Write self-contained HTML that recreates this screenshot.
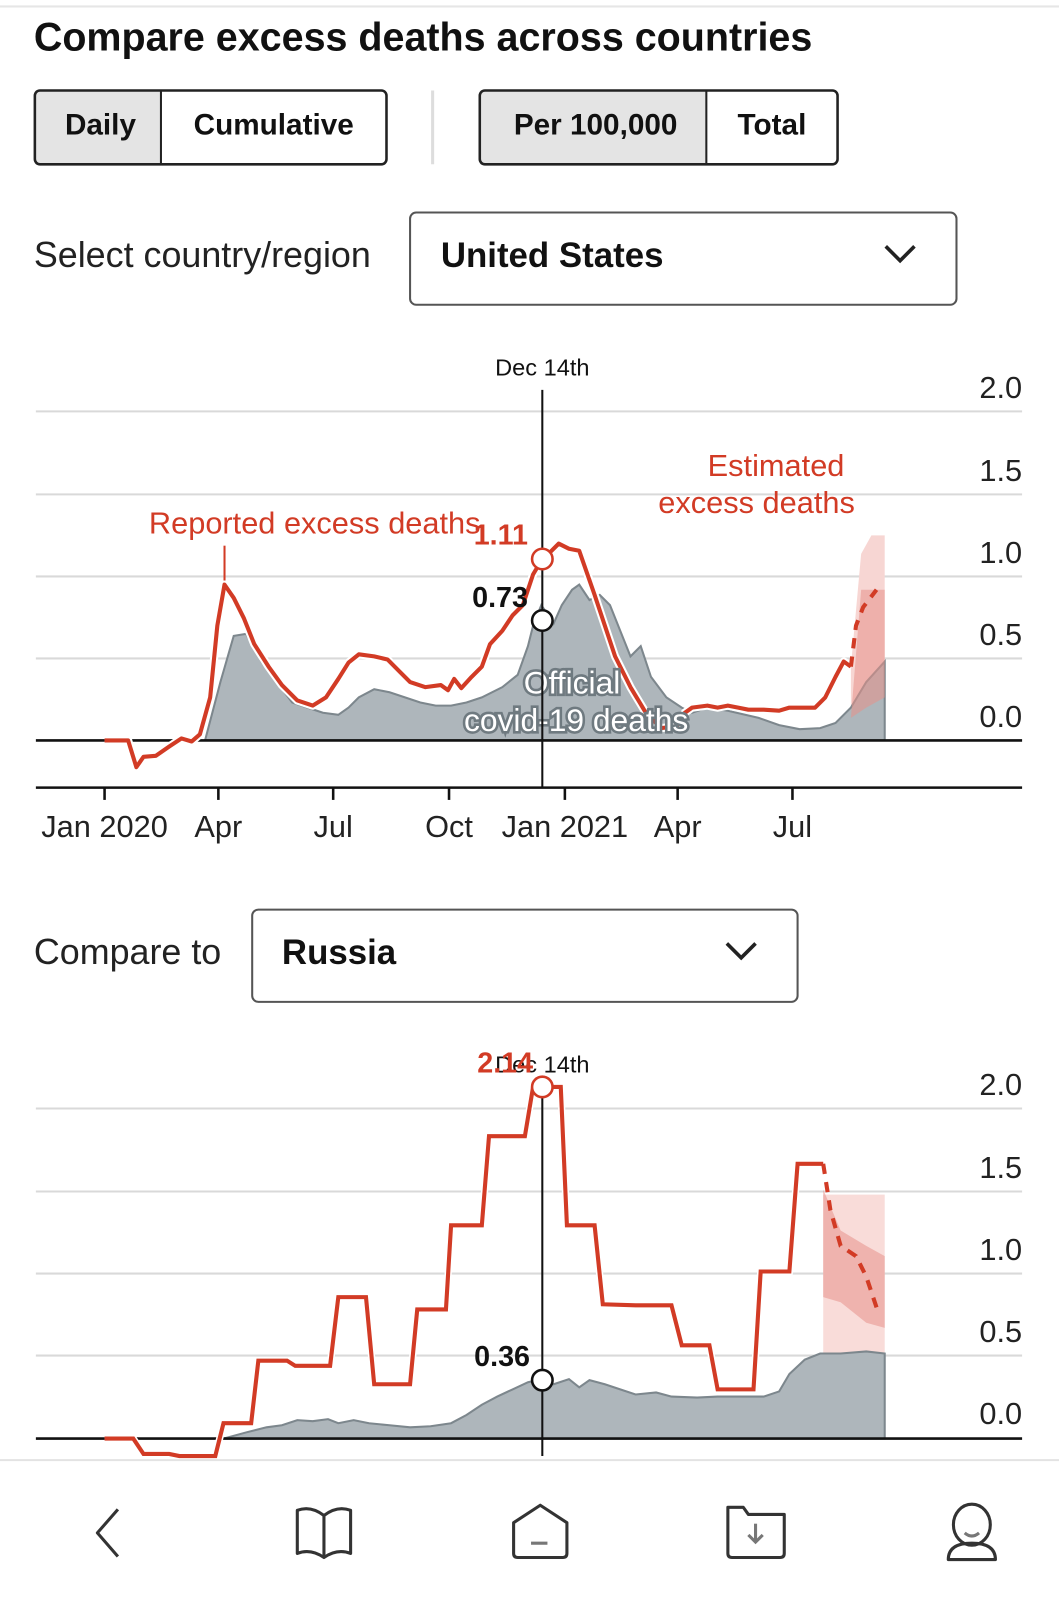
<!DOCTYPE html>
<html><head><meta charset="utf-8"><style>
html,body{margin:0;padding:0;background:#fff;}
svg{display:block;font-family:"Liberation Sans",sans-serif;}
</style></head><body>
<svg width="1059" height="1607" viewBox="0 0 1033 1567" xmlns="http://www.w3.org/2000/svg">
<rect width="1033" height="1567" fill="#fff"/>
<line x1="0" y1="6" x2="1033" y2="6" stroke="#e6e6e6" stroke-width="2"/>
<text x="33" y="49" font-size="38.5" font-weight="bold" fill="#111">Compare excess deaths across countries</text>
<rect x="34" y="88" width="123" height="72" fill="#e4e4e4"/>
<rect x="34" y="88" width="343" height="72" rx="5" fill="none" stroke="#222" stroke-width="2.5"/>
<line x1="157" y1="88" x2="157" y2="160" stroke="#222" stroke-width="2"/>
<text x="98" y="131" font-size="29" text-anchor="middle" fill="#111" font-weight="bold">Daily</text>
<text x="267" y="131" font-size="29" text-anchor="middle" fill="#111" font-weight="bold">Cumulative</text>
<line x1="422" y1="88" x2="422" y2="160" stroke="#ddd" stroke-width="3"/>
<rect x="468" y="88" width="221" height="72" fill="#e4e4e4"/>
<rect x="468" y="88" width="349" height="72" rx="5" fill="none" stroke="#222" stroke-width="2.5"/>
<line x1="689" y1="88" x2="689" y2="160" stroke="#222" stroke-width="2"/>
<text x="581" y="131" font-size="29" text-anchor="middle" fill="#111" font-weight="bold">Per 100,000</text>
<text x="753" y="131" font-size="29" text-anchor="middle" fill="#111" font-weight="bold">Total</text>
<text x="33" y="260" font-size="35" fill="#222">Select country/region</text>
<rect x="400" y="207" width="533" height="90" rx="6" fill="#fff" stroke="#555" stroke-width="2"/>
<text x="430" y="260" font-size="34" font-weight="bold" fill="#111">United States</text>
<polyline points="864,240 878,254 892,240" fill="none" stroke="#222" stroke-width="3.5"/>
<g stroke="#d9d9d9" stroke-width="2">
<line x1="35" y1="401" x2="997" y2="401"/><line x1="35" y1="482" x2="997" y2="482"/>
<line x1="35" y1="562" x2="997" y2="562"/><line x1="35" y1="642" x2="997" y2="642"/>
</g>
<g font-size="30" fill="#222" text-anchor="end">
<text x="997" y="388">2.0</text><text x="997" y="469">1.5</text><text x="997" y="549">1.0</text><text x="997" y="629">0.5</text><text x="997" y="709">0.0</text>
</g>
<polygon points="830,650 840,540 850,522 863,522 863,722 830,722" fill="#f7d6d3"/>
<polygon points="200,722 215,665 228,620 240,618 255,645 270,665 285,685 300,690 315,695 330,697 340,690 350,680 365,672 380,675 395,680 410,685 425,688 440,688 455,685 470,680 490,670 505,658 515,630 520,610 528,590 535,600 540,608 548,590 558,575 565,570 575,585 585,580 595,590 605,615 615,640 625,630 635,660 650,680 665,690 675,695 690,690 710,693 740,700 760,707 780,711 800,710 815,705 830,690 845,665 863,645 863,722" fill="#aeb6bb" stroke="#7d878d" stroke-width="2"/>
<polygon points="830,700 840,575 863,575 863,680 845,690 830,700" fill="#e8918a" opacity="0.55"/>
<line x1="35" y1="722" x2="997" y2="722" stroke="#111" stroke-width="2.5"/>
<polyline points="102,722 125,722 133,748 140,738 152,737 165,728 177,720 187,723 195,716 205,680 212,610 219,570 228,583 238,603 248,628 262,650 275,668 290,683 305,688 318,680 330,662 340,646 350,638 365,640 378,643 390,655 400,665 415,670 430,668 437,673 443,662 450,671 460,660 470,650 478,628 490,615 500,600 510,590 520,560 529,545 537,538 545,530 555,535 565,537 580,580 590,610 600,640 615,670 630,695 645,710 660,708 668,695 675,690 690,688 700,690 710,688 720,690 730,692 745,692 760,693 770,690 795,690 805,680 815,660 823,645 830,650" fill="none" stroke="#fff" stroke-width="8" stroke-linejoin="round"/>
<polyline points="102,722 125,722 133,748 140,738 152,737 165,728 177,720 187,723 195,716 205,680 212,610 219,570 228,583 238,603 248,628 262,650 275,668 290,683 305,688 318,680 330,662 340,646 350,638 365,640 378,643 390,655 400,665 415,670 430,668 437,673 443,662 450,671 460,660 470,650 478,628 490,615 500,600 510,590 520,560 529,545 537,538 545,530 555,535 565,537 580,580 590,610 600,640 615,670 630,695 645,710 660,708 668,695 675,690 690,688 700,690 710,688 720,690 730,692 745,692 760,693 770,690 795,690 805,680 815,660 823,645 830,650" fill="none" stroke="#d23b25" stroke-width="4" stroke-linejoin="round"/>
<polyline points="830,650 835,610 842,592 855,575" fill="none" stroke="#d23b25" stroke-width="4" stroke-dasharray="10,8"/>
<text x="558" y="676" font-size="31" text-anchor="middle" fill="#fff" stroke="#6f7a80" stroke-width="5" paint-order="stroke">Official</text>
<text x="562" y="713" font-size="31" text-anchor="middle" fill="#fff" stroke="#6f7a80" stroke-width="5" paint-order="stroke">covid-19 deaths</text>
<line x1="529" y1="380" x2="529" y2="768" stroke="#111" stroke-width="2"/>
<text x="529" y="366" font-size="23" text-anchor="middle" fill="#111">Dec 14th</text>
<line x1="219" y1="532" x2="219" y2="566" stroke="#d23b25" stroke-width="2"/>
<text x="307" y="520" font-size="30" text-anchor="middle" fill="#d23b25">Reported excess deaths</text>
<text x="757" y="464" font-size="30" text-anchor="middle" fill="#d23b25">Estimated</text>
<text x="738" y="500" font-size="30" text-anchor="middle" fill="#d23b25">excess deaths</text>
<text x="515" y="531" font-size="28" font-weight="bold" text-anchor="end" fill="#d23b25">1.11</text>
<text x="515" y="592" font-size="28" font-weight="bold" text-anchor="end" fill="#111">0.73</text>
<circle cx="529" cy="545" r="10" fill="#fff" stroke="#d23b25" stroke-width="2.5"/>
<circle cx="529" cy="605" r="10" fill="#fff" stroke="#111" stroke-width="2.5"/>
<line x1="35" y1="768" x2="997" y2="768" stroke="#111" stroke-width="2.5"/>
<g stroke="#111" stroke-width="2.5"><line x1="102" y1="768" x2="102" y2="780"/><line x1="213" y1="768" x2="213" y2="780"/><line x1="325" y1="768" x2="325" y2="780"/><line x1="438" y1="768" x2="438" y2="780"/><line x1="551" y1="768" x2="551" y2="780"/><line x1="661" y1="768" x2="661" y2="780"/><line x1="773" y1="768" x2="773" y2="780"/></g>
<g font-size="30" fill="#222" text-anchor="middle">
<text x="102" y="816">Jan 2020</text><text x="213" y="816">Apr</text><text x="325" y="816">Jul</text><text x="438" y="816">Oct</text><text x="551" y="816">Jan 2021</text><text x="661" y="816">Apr</text><text x="773" y="816">Jul</text>
</g>
<text x="33" y="940" font-size="35" fill="#222">Compare to</text>
<rect x="246" y="887" width="532" height="90" rx="6" fill="#fff" stroke="#555" stroke-width="2"/>
<text x="275" y="940" font-size="34" font-weight="bold" fill="#111">Russia</text>
<polyline points="709,920 723,934 737,920" fill="none" stroke="#222" stroke-width="3.5"/>
<g stroke="#d9d9d9" stroke-width="2">
<line x1="35" y1="1081" x2="997" y2="1081"/><line x1="35" y1="1162" x2="997" y2="1162"/>
<line x1="35" y1="1242" x2="997" y2="1242"/><line x1="35" y1="1322" x2="997" y2="1322"/>
</g>
<g font-size="30" fill="#222" text-anchor="end">
<text x="997" y="1068">2.0</text><text x="997" y="1149">1.5</text><text x="997" y="1229">1.0</text><text x="997" y="1309">0.5</text><text x="997" y="1389">0.0</text>
</g>
<rect x="803" y="1165" width="60" height="155" fill="#f9dcd9"/>
<polygon points="218,1403 240,1397 260,1392 275,1390 290,1385 305,1386 320,1384 330,1388 345,1385 360,1388 380,1390 400,1392 420,1391 440,1388 455,1380 470,1370 485,1362 500,1355 515,1348 529,1345 540,1350 555,1345 565,1353 575,1346 590,1350 605,1355 620,1360 640,1358 655,1362 680,1363 700,1362 720,1362 745,1362 760,1357 770,1340 785,1326 800,1320 820,1320 845,1318 863,1320 863,1403" fill="#aeb6bb" stroke="#7d878d" stroke-width="2"/>
<polygon points="803,1160 820,1200 845,1215 863,1225 863,1295 845,1290 820,1270 803,1265" fill="#e8918a" opacity="0.55"/>
<line x1="35" y1="1403" x2="997" y2="1403" stroke="#111" stroke-width="2.5"/>
<polyline points="102,1403 130,1403 140,1418 165,1418 175,1420 210,1420 218,1388 245,1388 252,1327 280,1327 288,1332 322,1332 330,1265 357,1265 365,1350 400,1350 407,1277 435,1277 440,1195 470,1195 477,1108 512,1108 520,1060 547,1060 553,1195 580,1195 588,1272 620,1273 655,1273 665,1312 692,1312 700,1355 735,1355 742,1240 770,1240 778,1135 803,1135" fill="none" stroke="#fff" stroke-width="7"/>
<polyline points="102,1403 130,1403 140,1418 165,1418 175,1420 210,1420 218,1388 245,1388 252,1327 280,1327 288,1332 322,1332 330,1265 357,1265 365,1350 400,1350 407,1277 435,1277 440,1195 470,1195 477,1108 512,1108 520,1060 547,1060 553,1195 580,1195 588,1272 620,1273 655,1273 665,1312 692,1312 700,1355 735,1355 742,1240 770,1240 778,1135 803,1135" fill="none" stroke="#d23b25" stroke-width="4"/>
<polyline points="803,1135 810,1180 820,1215 835,1225 845,1245 855,1275" fill="none" stroke="#d23b25" stroke-width="4" stroke-dasharray="10,8"/>
<line x1="529" y1="1050" x2="529" y2="1420" stroke="#111" stroke-width="2"/>
<text x="529" y="1046" font-size="23" text-anchor="middle" fill="#111">Dec 14th</text>
<text x="520" y="1046" font-size="28" font-weight="bold" text-anchor="end" fill="#d23b25">2.14</text>
<text x="517" y="1332" font-size="28" font-weight="bold" text-anchor="end" fill="#111">0.36</text>
<circle cx="529" cy="1060" r="10" fill="#fff" stroke="#d23b25" stroke-width="2.5"/>
<circle cx="529" cy="1346" r="10" fill="#fff" stroke="#111" stroke-width="2.5"/>
<rect x="0" y="1424" width="1033" height="143" fill="#fff"/>
<line x1="0" y1="1424" x2="1033" y2="1424" stroke="#e3e3e3" stroke-width="2"/>
<g fill="none" stroke="#333" stroke-width="3" stroke-linejoin="round">
<polyline points="115,1472 95,1495 115,1518"/>
<path d="M290,1473 Q303,1468 316,1478 Q329,1468 342,1473 L342,1515 Q329,1510 316,1519 Q303,1510 290,1515 Z M316,1478 L316,1519"/>
<path d="M501,1485 L527,1468 L553,1485 L553,1515 Q553,1519 549,1519 L505,1519 Q501,1519 501,1515 Z"/>
<path d="M710,1470 L725,1470 L730,1477 L765,1477 L765,1515 Q765,1519 761,1519 L714,1519 Q710,1519 710,1515 Z"/>
<ellipse cx="948" cy="1487" rx="18" ry="20"/>
<path d="M925,1521 Q925,1505 948,1505 Q971,1505 971,1521 Z"/>
</g>
<line x1="518" y1="1505" x2="534" y2="1505" stroke="#777" stroke-width="3"/>
<g stroke="#777" stroke-width="3" fill="none"><line x1="737" y1="1486" x2="737" y2="1503"/><polyline points="730,1497 737,1504 744,1497"/></g>
<path d="M941,1495 Q948,1501 955,1495" stroke="#777" stroke-width="3" fill="none"/>
</svg>
</body></html>
